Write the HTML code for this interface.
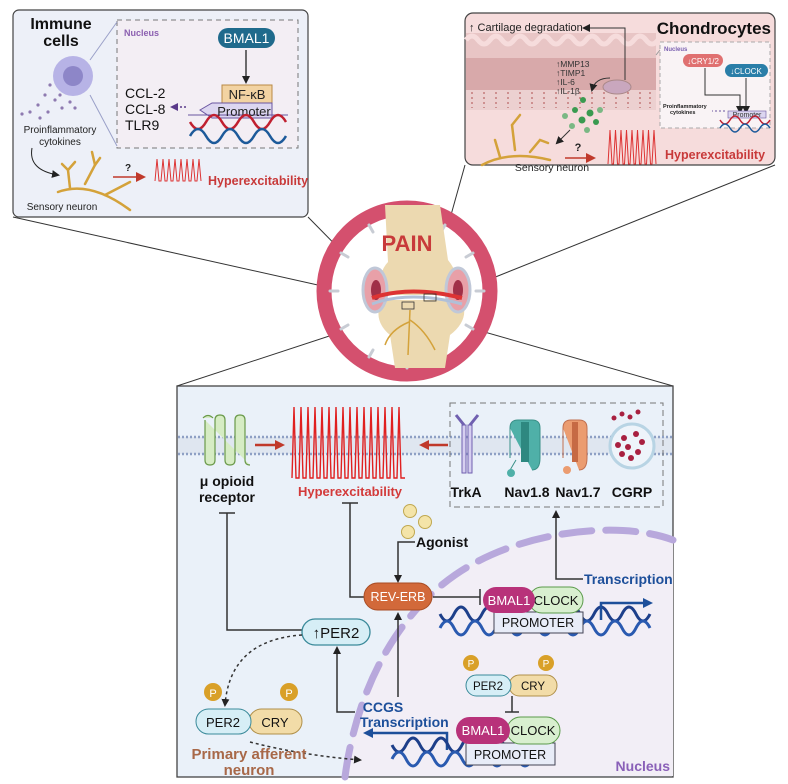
<!DOCTYPE html>
<html><head><meta charset="utf-8"><style>
html,body{margin:0;padding:0;background:#fff;}
svg{display:block;font-family:"Liberation Sans",Arial,sans-serif;}
</style></head><body>
<svg width="788" height="784" viewBox="0 0 788 784" xmlns="http://www.w3.org/2000/svg">
<defs>
<marker id="ak" markerWidth="8" markerHeight="8" refX="6" refY="4" orient="auto" markerUnits="userSpaceOnUse"><path d="M0,0 L8,4 L0,8 z" fill="#222"/></marker>
<marker id="ar" markerWidth="10" markerHeight="10" refX="7" refY="5" orient="auto" markerUnits="userSpaceOnUse"><path d="M0,0 L10,5 L0,10 z" fill="#c0392b"/></marker>
<marker id="ab" markerWidth="10" markerHeight="10" refX="7" refY="5" orient="auto" markerUnits="userSpaceOnUse"><path d="M0,0 L10,5 L0,10 z" fill="#1d4f9a"/></marker>
<marker id="ap" markerWidth="8" markerHeight="8" refX="6" refY="4" orient="auto" markerUnits="userSpaceOnUse"><path d="M0,0 L8,4 L0,8 z" fill="#5a3a8a"/></marker>
</defs>

<g stroke="#333" stroke-width="1" fill="none">
<line x1="13" y1="217" x2="367" y2="296"/>
<line x1="308" y1="217" x2="372" y2="282"/>
<line x1="465" y1="165" x2="428" y2="297"/>
<line x1="775" y1="165" x2="463" y2="290"/>
<line x1="177" y1="386" x2="372" y2="322"/>
<line x1="673" y1="386" x2="453" y2="323"/>
</g>

<!-- TOP LEFT PANEL -->
<rect x="13" y="10" width="295" height="207" rx="6" fill="#edf0f8" stroke="#444" stroke-width="1.2"/>
<rect x="117" y="20" width="181" height="128" fill="#f3eef4" stroke="#777" stroke-width="1" stroke-dasharray="5,4"/>
<line x1="90" y1="60" x2="117" y2="22" stroke="#9aa0c8"/><line x1="90" y1="95" x2="117" y2="146" stroke="#9aa0c8"/>
<text x="61" y="29" font-size="16" font-weight="bold" fill="#111" text-anchor="middle">Immune</text>
<text x="61" y="46" font-size="16" font-weight="bold" fill="#111" text-anchor="middle">cells</text>
<circle cx="73" cy="76" r="20" fill="#b7b3e6"/><circle cx="73" cy="76" r="10" fill="#8d86c8"/>
<g fill="#8e7ab0"><circle cx="50" cy="85" r="1.6"/><circle cx="45" cy="95" r="1.6"/><circle cx="55" cy="100" r="1.6"/><circle cx="38" cy="105" r="1.6"/><circle cx="62" cy="108" r="1.6"/><circle cx="30" cy="112" r="1.6"/><circle cx="48" cy="112" r="1.6"/><circle cx="70" cy="102" r="1.6"/><circle cx="22" cy="114" r="1.6"/><circle cx="40" cy="118" r="1.6"/><circle cx="60" cy="95" r="1.6"/><circle cx="75" cy="108" r="1.6"/></g>
<text x="60" y="133" font-size="10" fill="#222" text-anchor="middle">Proinflammatory</text>
<text x="60" y="145" font-size="10" fill="#222" text-anchor="middle">cytokines</text>
<path d="M32,148 Q28,170 58,175" stroke="#222" fill="none" marker-end="url(#ak)"/>
<g stroke="#d4a23a" stroke-width="2.5" fill="none" stroke-linecap="round"><path d="M58,192 Q90,180 130,210"/><path d="M70,188 L68,170 L75,162"/><path d="M85,184 L95,165 L92,152"/><path d="M95,165 L100,158"/><path d="M68,170 L62,164"/><path d="M105,195 L130,182"/></g>
<text x="62" y="210" font-size="10" fill="#222" text-anchor="middle">Sensory neuron</text>
<text x="128" y="171" font-size="10" font-weight="bold" fill="#222" text-anchor="middle">?</text>
<line x1="113" y1="177" x2="143" y2="177" stroke="#c0392b" stroke-width="1.5" marker-end="url(#ar)"/>
<path d="M155,181 l2,-22 l2,22 l2,0 l2,-22 l2,22 l2,0 l2,-22 l2,22 l2,0 l2,-22 l2,22 l2,0 l2,-22 l2,22 l2,0 l2,-22 l2,22 l2,0 l2,-22 l2,22 l2,0 l2,-22 l2,22" stroke="#d33" stroke-width="1" fill="none"/>
<text x="208" y="185" font-size="12.5" font-weight="bold" fill="#c83a3a">Hyperexcitability</text>
<text x="124" y="36" font-size="9" font-weight="bold" fill="#8b5fb0">Nucleus</text>
<rect x="218" y="28" width="57" height="20" rx="10" fill="#1f6a8c"/>
<text x="246.5" y="43" font-size="14" fill="#fff" text-anchor="middle">BMAL1</text>
<line x1="246" y1="50" x2="246" y2="82" stroke="#222" stroke-width="1.3" marker-end="url(#ak)"/>
<rect x="222" y="85" width="50" height="18" fill="#f2d3a2" stroke="#b98a44"/>
<text x="247" y="99" font-size="13" fill="#222" text-anchor="middle">NF-κB</text>
<path d="M200,110 L212,103 L272,103 L272,118 L212,118 z" fill="#dcd6f0" stroke="#6a55a0"/>
<line x1="188" y1="115" x2="288" y2="115" stroke="#6a55a0"/>
<text x="244" y="116" font-size="13" fill="#222" text-anchor="middle">Promoter</text>
<path d="M190,122 q8,14 16,0 t16,0 t16,0 t16,0 t16,0 t16,0" stroke="#c02030" stroke-width="2.5" fill="none"/>
<path d="M190,136 q8,-14 16,0 t16,0 t16,0 t16,0 t16,0 t16,0" stroke="#1d5a9a" stroke-width="2.5" fill="none"/>
<line x1="186" y1="107" x2="172" y2="107" stroke="#5a3a8a" stroke-width="1.5" stroke-dasharray="2,2" marker-end="url(#ap)"/>
<text x="125" y="98" font-size="14" fill="#111">CCL-2</text>
<text x="125" y="114" font-size="14" fill="#111">CCL-8</text>
<text x="125" y="130" font-size="14" fill="#111">TLR9</text>

<!-- TOP RIGHT PANEL -->
<rect x="465" y="13" width="310" height="152" rx="8" fill="#f6dcdc" stroke="#444" stroke-width="1.2"/>
<rect x="466" y="33" width="190" height="28" fill="#e8c5c5"/>
<rect x="466" y="58" width="190" height="32" fill="#d8a9aa"/>
<rect x="466" y="90" width="190" height="20" fill="#ecd0d0"/>
<path d="M466,40 q6,-8 12,0 t12,0 t12,0 t12,0 t12,0 t12,0 t12,0 t12,0 t12,0 t12,0 t12,0 t12,0 t12,0 t12,0 t12,0 t12,0" stroke="#f6dcdc" stroke-width="5" fill="none"/>
<g stroke="#b66" stroke-width="1.2" stroke-dasharray="2,3"><line x1="472" y1="92" x2="472" y2="108"/><line x1="484" y1="92" x2="484" y2="108"/><line x1="496" y1="92" x2="496" y2="108"/><line x1="508" y1="92" x2="508" y2="108"/><line x1="520" y1="92" x2="520" y2="108"/><line x1="532" y1="92" x2="532" y2="108"/><line x1="544" y1="92" x2="544" y2="108"/><line x1="556" y1="92" x2="556" y2="108"/><line x1="568" y1="92" x2="568" y2="108"/><line x1="580" y1="92" x2="580" y2="108"/><line x1="592" y1="92" x2="592" y2="108"/><line x1="604" y1="92" x2="604" y2="108"/><line x1="616" y1="92" x2="616" y2="108"/><line x1="628" y1="92" x2="628" y2="108"/><line x1="640" y1="92" x2="640" y2="108"/><line x1="650" y1="92" x2="650" y2="108"/></g>
<ellipse cx="617" cy="87" rx="14" ry="7" fill="#c9a7be" stroke="#a88"/>
<text x="469" y="31" font-size="11" fill="#222">↑ Cartilage degradation</text>
<path d="M625,80 L625,28 L584,28" stroke="#333" fill="none" marker-end="url(#ak)"/>
<text x="556" y="67" font-size="8.5" fill="#333">↑MMP13</text>
<text x="556" y="76" font-size="8.5" fill="#333">↑TIMP1</text>
<text x="556" y="85" font-size="8.5" fill="#333">↑IL-6</text>
<text x="556" y="94" font-size="8.5" fill="#333">↑IL-1β</text>
<path d="M610,78 Q595,78 592,90" stroke="#333" fill="none" marker-end="url(#ak)"/>
<g fill="#3a9a50"><circle cx="583" cy="100" r="3"/><circle cx="575" cy="110" r="3"/><circle cx="590" cy="113" r="3.5"/><circle cx="582" cy="120" r="3.5"/><circle cx="596" cy="122" r="3"/><circle cx="572" cy="126" r="3" fill="#7ab884"/><circle cx="587" cy="130" r="3" fill="#7ab884"/><circle cx="600" cy="110" r="3" fill="#7ab884"/><circle cx="565" cy="116" r="3" fill="#7ab884"/></g>
<line x1="570" y1="130" x2="557" y2="143" stroke="#333" marker-end="url(#ak)"/>
<g stroke="#d4a23a" stroke-width="2.5" fill="none" stroke-linecap="round"><path d="M482,165 Q510,150 550,160"/><path d="M515,150 L512,125"/><path d="M512,125 L520,115"/><path d="M530,152 L540,140 L548,143"/><path d="M500,157 L495,140"/></g>
<text x="552" y="171" font-size="10.5" fill="#222" text-anchor="middle">Sensory neuron</text>
<text x="578" y="151" font-size="11" font-weight="bold" fill="#222" text-anchor="middle">?</text>
<line x1="565" y1="158" x2="593" y2="158" stroke="#c0392b" stroke-width="1.5" marker-end="url(#ar)"/>
<path d="M608,164 l2,-34 l2,34 l1.5,0 l2,-34 l2,34 l1.5,0 l2,-34 l2,34 l1.5,0 l2,-34 l2,34 l1.5,0 l2,-34 l2,34 l1.5,0 l2,-34 l2,34 l1.5,0 l2,-34 l2,34 l1.5,0 l2,-34 l2,34 l1.5,0 l2,-34 l2,34" stroke="#d33" stroke-width="1" fill="none"/>
<text x="665" y="159" font-size="12.5" font-weight="bold" fill="#c83a3a">Hyperexcitability</text>
<text x="771" y="34" font-size="17" font-weight="bold" fill="#111" text-anchor="end">Chondrocytes</text>
<rect x="660" y="42" width="110" height="86" fill="#f9f3f5" stroke="#aaa" stroke-dasharray="4,3"/>
<line x1="656" y1="55" x2="660" y2="50" stroke="#999"/>
<text x="664" y="51" font-size="6" font-weight="bold" fill="#7a5fb0">Nucleus</text>
<rect x="683" y="54" width="40" height="13" rx="6.5" fill="#e07070"/>
<text x="703" y="64" font-size="8" fill="#fff" text-anchor="middle">↓CRY1/2</text>
<rect x="725" y="64" width="43" height="13" rx="6.5" fill="#2a7ea8"/>
<text x="746" y="74" font-size="8" fill="#fff" text-anchor="middle">↓CLOCK</text>
<path d="M705,68 L705,95 L740,95 L740,112" stroke="#333" fill="none" marker-end="url(#ak)"/>
<line x1="746" y1="78" x2="746" y2="112" stroke="#333" marker-end="url(#ak)"/>
<text x="663" y="108" font-size="5.5" font-weight="bold" fill="#222">Proinflammatory</text>
<text x="670" y="114" font-size="5.5" font-weight="bold" fill="#222">cytokines</text>
<line x1="725" y1="111" x2="712" y2="111" stroke="#6a55a0" stroke-dasharray="2,2"/>
<rect x="728" y="111" width="38" height="7" fill="#dcd6f0" stroke="#6a55a0" stroke-width=".6"/>
<text x="747" y="117" font-size="7" fill="#333" text-anchor="middle">Promoter</text>
<path d="M720,120 q5,8 10,0 t10,0 t10,0 t10,0 t10,0" stroke="#c02030" stroke-width="1.5" fill="none"/>
<path d="M720,128 q5,-8 10,0 t10,0 t10,0 t10,0 t10,0" stroke="#1d5a9a" stroke-width="1.5" fill="none"/>

<!-- CENTER CIRCLE -->
<circle cx="407" cy="291" r="83" fill="#fff" stroke="#d4506e" stroke-width="15"/>
<g stroke="#c8ccd4" stroke-width="3" stroke-linecap="round"><line x1="407" y1="214" x2="407" y2="222"/><line x1="407" y1="360" x2="407" y2="368"/><line x1="330" y1="291" x2="338" y2="291"/><line x1="476" y1="291" x2="484" y2="291"/><line x1="445" y1="225" x2="441" y2="232"/><line x1="369" y1="225" x2="373" y2="232"/><line x1="341" y1="253" x2="348" y2="257"/><line x1="473" y1="253" x2="466" y2="257"/><line x1="341" y1="329" x2="348" y2="325"/><line x1="473" y1="329" x2="466" y2="325"/><line x1="445" y1="357" x2="441" y2="350"/><line x1="369" y1="357" x2="373" y2="350"/></g>
<path d="M385,205 L440,205 L448,260 Q460,275 460,295 L380,295 Q378,272 388,262 z" fill="#ecd9b0"/>
<path d="M382,300 L462,300 Q470,320 450,335 L445,368 L395,368 L390,335 Q372,320 382,300 z" fill="#ecd9b0"/>
<ellipse cx="375" cy="290" rx="12" ry="22" fill="#e8a0a8" stroke="#c0c8d8" stroke-width="3"/>
<ellipse cx="458" cy="290" rx="12" ry="22" fill="#e8a0a8" stroke="#c0c8d8" stroke-width="3"/>
<ellipse cx="376" cy="290" rx="5" ry="10" fill="#a03048"/><ellipse cx="458" cy="290" rx="5" ry="10" fill="#a03048"/>
<path d="M372,298 Q410,285 462,298" stroke="#d33" stroke-width="4" fill="none"/>
<path d="M372,304 Q410,290 462,304" stroke="#b0c0d8" stroke-width="3" fill="none"/>
<g stroke="#d4a23a" stroke-width="1.5" fill="none"><path d="M410,310 L408,355"/><path d="M410,320 Q425,330 435,350"/><path d="M409,322 Q390,330 385,345"/></g>
<rect x="402" y="302" width="12" height="7" fill="none" stroke="#333" stroke-width=".8"/>
<rect x="424" y="294" width="12" height="7" fill="none" stroke="#333" stroke-width=".8"/>
<text x="407" y="251" font-size="22" font-weight="bold" fill="#c83a3a" text-anchor="middle">PAIN</text>

<!-- BOTTOM BOX -->
<rect x="177" y="386" width="496" height="391" fill="#eaf1f9" stroke="#444" stroke-width="1.3"/>
<path d="M345,777 C355,700 390,620 455,575 S620,520 673,540 L673,776 L345,776 z" fill="#f2eef6"/>
<path d="M345,777 C355,700 390,620 455,575 S620,520 673,540" stroke="#b8a8dc" stroke-width="7" fill="none" stroke-dasharray="30,14" stroke-linecap="round"/>
<rect x="178" y="437" width="494" height="17" fill="#dfe6f0"/>
<line x1="178" y1="437" x2="672" y2="437" stroke="#8ea0c4" stroke-width="2.5" stroke-dasharray="2,2"/>
<line x1="178" y1="454" x2="672" y2="454" stroke="#8ea0c4" stroke-width="2.5" stroke-dasharray="2,2"/>
<path d="M203,418 q5,-5 10,0 M205,420 v40 q0,5 5,5 q5,0 5,-5 v-40 q0,-5 5,-5 q5,0 5,5 v40 q0,5 5,5 q5,0 5,-5 v-40 q0,-5 5,-5 q5,0 5,5 v40 q0,5 5,5" stroke="#6a9a4a" stroke-width="1.2" fill="#d6ecc4"/>
<text x="227" y="486" font-size="14" font-weight="bold" fill="#111" text-anchor="middle">μ opioid</text>
<text x="227" y="502" font-size="14" font-weight="bold" fill="#111" text-anchor="middle">receptor</text>
<line x1="255" y1="445" x2="282" y2="445" stroke="#c0392b" stroke-width="2.5" marker-end="url(#ar)"/>
<line x1="448" y1="445" x2="422" y2="445" stroke="#c0392b" stroke-width="2.5" marker-end="url(#ar)"/>
<path d="M292,478 l2,-71 l2,71 l3,0 l2,-71 l2,71 l3,0 l2,-71 l2,71 l3,0 l2,-71 l2,71 l3,0 l2,-71 l2,71 l3,0 l2,-71 l2,71 l3,0 l2,-71 l2,71 l3,0 l2,-71 l2,71 l3,0 l2,-71 l2,71 l3,0 l2,-71 l2,71 l3,0 l2,-71 l2,71 l3,0 l2,-71 l2,71 l3,0 l2,-71 l2,71 l3,0 l2,-71 l2,71 l3,0 l2,-71 l2,71 l3,0 l2,-71 l2,71 l4,0" stroke="#e02020" stroke-width="1.4" fill="none"/>
<text x="350" y="496" font-size="13" font-weight="bold" fill="#d33a3a" text-anchor="middle">Hyperexcitability</text>
<rect x="450" y="403" width="213" height="104" fill="none" stroke="#777" stroke-dasharray="6,4"/>
<g stroke="#7060b0" fill="#d6cff0" stroke-width="1"><rect x="462" y="425" width="4" height="48"/><rect x="468" y="425" width="4" height="48"/><path d="M464,425 l-8,-10 M470,425 l8,-10" stroke-width="3"/></g>
<path d="M510,428 q0,-8 8,-8 h14 q8,0 8,8 v30 q0,12 -8,12 M510,458 v-30 M516,460 q-6,10 -8,14" fill="#4fb0a8" stroke="#3a9088"/>
<rect x="521" y="422" width="8" height="40" fill="#2e8880"/>
<circle cx="511" cy="473" r="4" fill="#4fb0a8"/>
<path d="M563,428 q0,-8 8,-8 h8 q8,0 8,8 v30 q0,12 -8,12 M563,458 v-30" fill="#eb9c70" stroke="#c07050"/>
<rect x="572" y="422" width="6" height="40" fill="#c66a44"/>
<circle cx="567" cy="470" r="4" fill="#eb9c70"/>
<circle cx="632" cy="446" r="22" fill="#eef4fa" stroke="#b8d4e4" stroke-width="3"/>
<g fill="#a82040"><circle cx="624" cy="438" r="3"/><circle cx="636" cy="434" r="3"/><circle cx="642" cy="442" r="3"/><circle cx="628" cy="447" r="3"/><circle cx="638" cy="452" r="3"/><circle cx="622" cy="454" r="3"/><circle cx="631" cy="458" r="3"/><circle cx="618" cy="445" r="3"/><circle cx="614" cy="418" r="2.5"/><circle cx="622" cy="414" r="2.5"/><circle cx="630" cy="417" r="2.5"/><circle cx="638" cy="412" r="2.5"/></g>
<text x="466" y="497" font-size="14" font-weight="bold" fill="#111" text-anchor="middle">TrkA</text>
<text x="527" y="497" font-size="14" font-weight="bold" fill="#111" text-anchor="middle">Nav1.8</text>
<text x="578" y="497" font-size="14" font-weight="bold" fill="#111" text-anchor="middle">Nav1.7</text>
<text x="632" y="497" font-size="14" font-weight="bold" fill="#111" text-anchor="middle">CGRP</text>
<path d="M583,579 L556,579 L556,512" stroke="#333" stroke-width="1.5" fill="none" marker-end="url(#ak)"/>
<text x="584" y="584" font-size="14" font-weight="bold" fill="#1d4f9a">Transcription</text>
<g stroke="#333" stroke-width="1.5" fill="none">
<path d="M227,513 L227,630 L302,630"/><line x1="219" y1="513" x2="235" y2="513"/>
<path d="M350,503 L350,597 L365,597"/><line x1="342" y1="503" x2="358" y2="503"/>
<line x1="433" y1="597" x2="480" y2="597"/><line x1="480" y1="589" x2="480" y2="605"/>
</g>
<g fill="#f4e4a8" stroke="#c0a850"><circle cx="410" cy="511" r="6.5"/><circle cx="425" cy="522" r="6.5"/><circle cx="408" cy="532" r="6.5"/></g>
<text x="416" y="547" font-size="14" font-weight="bold" fill="#111">Agonist</text>
<path d="M415,542 L398,542 L398,581" stroke="#333" stroke-width="1.5" fill="none" marker-end="url(#ak)"/>
<rect x="364" y="583" width="68" height="27" rx="13.5" fill="#d2693a" stroke="#a84c24"/>
<text x="398" y="601" font-size="12.5" fill="#fff" text-anchor="middle">REV-ERB</text>
<path d="M440,614 q7,14 14,0 t14,0 t14,0 t14,0 t14,0 t14,0 t14,0 t14,0 t14,0 t14,0 t14,0 t14,0 t14,0 t14,0 t14,0" stroke="#1d3f8a" stroke-width="3" fill="none"/>
<path d="M440,628 q7,-14 14,0 t14,0 t14,0 t14,0 t14,0 t14,0 t14,0 t14,0 t14,0 t14,0 t14,0 t14,0 t14,0 t14,0 t14,0" stroke="#2a5ab0" stroke-width="3" fill="none"/>
<rect x="494" y="612" width="89" height="21" fill="#e8ecf8" stroke="#445"/>
<text x="538" y="627" font-size="12.5" fill="#111" text-anchor="middle">PROMOTER</text>
<rect x="529" y="587" width="54" height="26" rx="13" fill="#d8efcf" stroke="#5a9a4a"/>
<text x="556" y="605" font-size="13" fill="#111" text-anchor="middle">CLOCK</text>
<rect x="483" y="587" width="52" height="26" rx="13" fill="#b8327a"/>
<text x="509" y="605" font-size="13" fill="#fff" text-anchor="middle">BMAL1</text>
<path d="M601,620 L601,603 L650,603" stroke="#1d4f9a" stroke-width="2.5" fill="none" marker-end="url(#ab)"/>
<rect x="302" y="619" width="68" height="26" rx="13" fill="#d6eef6" stroke="#3a8a9a" stroke-width="1.3"/>
<text x="336" y="638" font-size="15" fill="#111" text-anchor="middle">↑PER2</text>
<path d="M355,712 L337,712 L337,648" stroke="#333" stroke-width="1.5" fill="none" marker-end="url(#ak)"/>
<line x1="398" y1="697" x2="398" y2="614" stroke="#333" stroke-width="1.5" marker-end="url(#ak)"/>
<text x="383" y="712" font-size="14" font-weight="bold" fill="#1d4f9a" text-anchor="middle">CCGS</text>
<text x="360" y="727" font-size="14" font-weight="bold" fill="#1d4f9a">Transcription</text>
<path d="M447,750 L447,733 L366,733" stroke="#1d4f9a" stroke-width="2.5" fill="none" marker-end="url(#ab)"/>
<path d="M302,635 Q230,640 225,705" stroke="#333" stroke-width="1.5" stroke-dasharray="3,3" fill="none" marker-end="url(#ak)"/>
<path d="M250,742 Q300,755 360,760" stroke="#333" stroke-width="1.5" stroke-dasharray="3,3" fill="none" marker-end="url(#ak)"/>
<rect x="249" y="709" width="53" height="25" rx="12.5" fill="#f2dca8" stroke="#b0904a"/>
<text x="275" y="727" font-size="13" fill="#111" text-anchor="middle">CRY</text>
<rect x="196" y="709" width="55" height="25" rx="12.5" fill="#d6eef6" stroke="#3a8a9a"/>
<text x="223" y="727" font-size="13" fill="#111" text-anchor="middle">PER2</text>
<circle cx="213" cy="692" r="9" fill="#d9a028"/><text x="213" y="697" font-size="11" fill="#fff" text-anchor="middle">P</text>
<circle cx="289" cy="692" r="9" fill="#d9a028"/><text x="289" y="697" font-size="11" fill="#fff" text-anchor="middle">P</text>
<text x="249" y="759" font-size="15" font-weight="bold" fill="#a86848" text-anchor="middle">Primary afferent</text>
<text x="249" y="775" font-size="15" font-weight="bold" fill="#a86848" text-anchor="middle">neuron</text>
<rect x="509" y="675" width="48" height="21" rx="10.5" fill="#f2dca8" stroke="#b0904a"/>
<text x="533" y="690" font-size="11.5" fill="#111" text-anchor="middle">CRY</text>
<rect x="466" y="675" width="45" height="21" rx="10.5" fill="#d6eef6" stroke="#3a8a9a"/>
<text x="488" y="690" font-size="11.5" fill="#111" text-anchor="middle">PER2</text>
<circle cx="471" cy="663" r="8" fill="#d9a028"/><text x="471" y="667" font-size="10" fill="#fff" text-anchor="middle">P</text>
<circle cx="546" cy="663" r="8" fill="#d9a028"/><text x="546" y="667" font-size="10" fill="#fff" text-anchor="middle">P</text>
<line x1="512" y1="696" x2="512" y2="712" stroke="#333" stroke-width="1.5"/><line x1="505" y1="712" x2="519" y2="712" stroke="#333" stroke-width="1.5"/>
<path d="M392,745 q7,14 14,0 t14,0 t14,0 t14,0 t14,0 t14,0 t14,0 t14,0 t14,0 t14,0" stroke="#1d3f8a" stroke-width="3" fill="none"/>
<path d="M392,759 q7,-14 14,0 t14,0 t14,0 t14,0 t14,0 t14,0 t14,0 t14,0 t14,0 t14,0" stroke="#2a5ab0" stroke-width="3" fill="none"/>
<rect x="466" y="743" width="89" height="22" fill="#e8ecf8" stroke="#445"/>
<text x="510" y="759" font-size="12.5" fill="#111" text-anchor="middle">PROMOTER</text>
<rect x="507" y="717" width="53" height="27" rx="13.5" fill="#d8efcf" stroke="#5a9a4a"/>
<text x="533" y="735" font-size="13" fill="#111" text-anchor="middle">CLOCK</text>
<rect x="456" y="717" width="54" height="27" rx="13.5" fill="#b8327a"/>
<text x="483" y="735" font-size="13" fill="#fff" text-anchor="middle">BMAL1</text>
<text x="670" y="771" font-size="14" font-weight="bold" fill="#8a60b8" text-anchor="end">Nucleus</text>
</svg>
</body></html>
